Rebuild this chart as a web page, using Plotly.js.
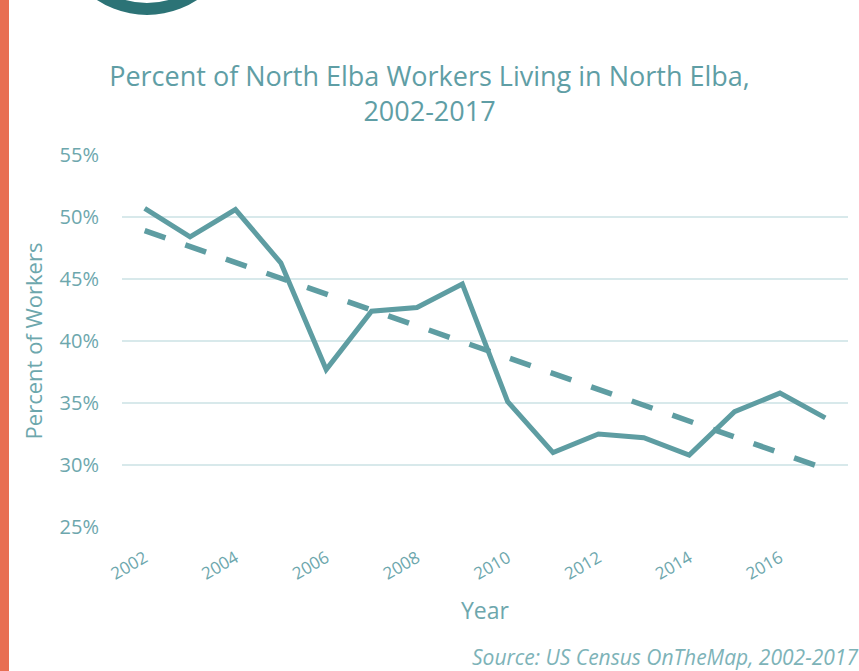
<!DOCTYPE html>
<html>
<head>
<meta charset="utf-8">
<script src="https://cdn.plot.ly/plotly-3.0.1.min.js"></script>
<style>
  html, body { margin: 0; padding: 0; background: #ffffff; }
  #wrap { position: relative; width: 859px; height: 671px; overflow: hidden; background: #ffffff; }
  #bar { position: absolute; left: 0; top: 0; width: 9px; height: 671px; background: #E86E52; }
  #ring { position: absolute; left: 56px; top: -167px; width: 158px; height: 158px; border: 12px solid #2C7376; border-radius: 50%; box-sizing: content-box; }
  #chart { position: absolute; left: 0; top: 0; width: 859px; height: 671px; }
</style>
</head>
<body>
<div id="wrap">
  <div id="bar"></div>
  <div id="ring"></div>
  <div id="chart"></div>
</div>
<script>
const years = [2002, 2003, 2004, 2005, 2006, 2007, 2008, 2009, 2010, 2011, 2012, 2013, 2014, 2015, 2016, 2017];
const pctLiving = [50.7, 48.4, 50.6, 46.3, 37.7, 42.4, 42.7, 44.6, 35.1, 31.0, 32.5, 32.2, 30.8, 34.3, 35.8, 33.8];
const trendYears = [2002, 2017];
const trendPct = [48.9, 29.7];
const xTickVals = [2002, 2004, 2006, 2008, 2010, 2012, 2014, 2016];
const xTickText = ['2002', '2004', '2006', '2008', '2010', '2012', '2014', '2016'];
const yTickVals = [25, 30, 35, 40, 45, 50, 55];
const yTickText = ['25%', '30%', '35%', '40%', '45%', '50%', '55%'];

const lineColor = '#5E9DA2';
const textColor = '#6DA7AD';
const gridColor = '#D8E9EB';
const fontFamily = '"Open Sans", "Noto Sans", sans-serif';

const traces = [
  {
    x: years, y: pctLiving, type: 'scatter', mode: 'lines',
    line: { color: lineColor, width: 5 },
    name: 'Percent living in North Elba', hoverinfo: 'x+y'
  },
  {
    x: trendYears, y: trendPct, type: 'scatter', mode: 'lines',
    line: { color: lineColor, width: 5.5, dash: '22px,21px' },
    name: 'Linear trend', hoverinfo: 'skip'
  }
];

const layout = {
  width: 859, height: 671,
  paper_bgcolor: 'rgba(0,0,0,0)', plot_bgcolor: 'rgba(0,0,0,0)',
  margin: { l: 122, r: 11, t: 155, b: 144 },
  showlegend: false,
  font: { family: fontFamily, color: textColor },
  title: {
    text: 'Percent of North Elba Workers Living in North Elba,<br>2002-2017',
    font: { family: fontFamily, size: 27, color: '#5F9EA5' },
    x: 0.5, xref: 'container', xanchor: 'center',
    y: (671 - 86) / 671, yref: 'container', yanchor: 'middle'
  },
  xaxis: {
    range: [2001.5, 2017.5],
    tickvals: xTickVals, ticktext: xTickText,
    tickangle: -30,
    tickfont: { family: fontFamily, size: 17, color: textColor },
    showgrid: false, zeroline: false, showline: false,
    ticks: '', ticklabelstandoff: 17,
    title: { text: 'Year', font: { family: fontFamily, size: 23, color: textColor }, standoff: 19 },
    automargin: false, fixedrange: true
  },
  yaxis: {
    range: [25, 55],
    tickvals: yTickVals, ticktext: yTickText,
    tickfont: { family: fontFamily, size: 20, color: textColor },
    showgrid: true, gridcolor: gridColor, gridwidth: 2,
    zeroline: false, showline: false,
    ticks: '', ticklabelstandoff: 22,
    title: { text: 'Percent of Workers', font: { family: fontFamily, size: 22, color: textColor }, standoff: 10 },
    automargin: false, fixedrange: true
  },
  annotations: [
    {
      text: '<i>Source: US Census OnTheMap, 2002-2017</i>',
      xref: 'paper', yref: 'paper', x: (470 - 122) / 726, y: -(657 - 527) / 372,
      xanchor: 'left', yanchor: 'middle', showarrow: false,
      font: { family: fontFamily, size: 21, color: '#7DB3B8' }
    }
  ]
};

Plotly.newPlot('chart', traces, layout, { displayModeBar: false, staticPlot: true });
</script>
</body>
</html>
